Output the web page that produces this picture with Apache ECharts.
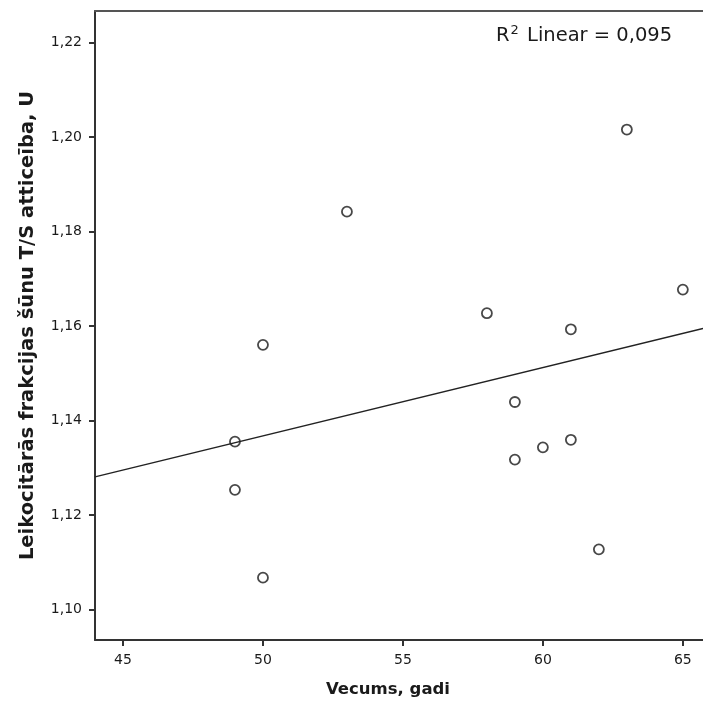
<!DOCTYPE html>
<html>
<head>
<meta charset="utf-8">
<script src="https://cdn.jsdelivr.net/npm/echarts@6/dist/echarts.min.js"></script>
<style>html,body{margin:0;padding:0;background:#fff}#c{width:703px;height:707px}</style>
</head>
<body>
<div id="c"></div>
<script>
// Data
const ages = [49, 49, 50, 50, 53, 58, 59, 59, 60, 61, 61, 62, 63, 65];
const tsRatio = [1.1355, 1.1253, 1.1067, 1.1560, 1.1842, 1.1627, 1.1439, 1.1317, 1.1343, 1.1593, 1.1359, 1.1127, 1.2016, 1.1677];
const xTicks = [45, 50, 55, 60, 65];
const yTicks = [1.10, 1.12, 1.14, 1.16, 1.18, 1.20, 1.22];
const xRange = [44, 65.72];
const yRange = [1.0935, 1.2267];
const r2Text = '0,095';
const xTitle = 'Vecums, gadi';
const yTitle = 'Leikocitārās frakcijas šūnu T/S atticeība, U';

// Linear fit (least squares) from the data
const n = ages.length;
const mx = ages.reduce((a, b) => a + b, 0) / n;
const my = tsRatio.reduce((a, b) => a + b, 0) / n;
let sxy = 0, sxx = 0;
for (let i = 0; i < n; i++) { sxy += (ages[i] - mx) * (tsRatio[i] - my); sxx += (ages[i] - mx) ** 2; }
const slope = sxy / sxx, icpt = my - slope * mx;
const fitLine = [[xRange[0], icpt + slope * xRange[0]], [xRange[1], icpt + slope * xRange[1]]];

const points = ages.map((a, i) => [a, tsRatio[i]]);
const font = "'DejaVu Sans', sans-serif";
const chart = echarts.init(document.getElementById('c'), null, { renderer: 'canvas' });
chart.setOption({
  animation: false,
  backgroundColor: '#fff',
  grid: { left: 95, right: 0, top: 11, bottom: 67, show: false },
  xAxis: [{
    type: 'value', min: xRange[0], max: xRange[1],
    splitLine: { show: false },
    axisLine: { show: true, onZero: false, lineStyle: { color: '#333', width: 2 } },
    axisTick: { show: true, length: 6, customValues: xTicks, lineStyle: { color: '#333', width: 2 } },
    axisLabel: { customValues: xTicks, color: '#1a1a1a', fontSize: 14, fontFamily: font, margin: 13 }
  }, {
    type: 'value', position: 'top', min: xRange[0], max: xRange[1],
    splitLine: { show: false },
    axisLine: { show: true, onZero: false, lineStyle: { color: '#555', width: 2 } },
    axisTick: { show: false }, axisLabel: { show: false }
  }],
  yAxis: {
    type: 'value', min: yRange[0], max: yRange[1],
    name: yTitle, nameLocation: 'middle', nameGap: 57,
    nameTextStyle: { fontSize: 19.5, fontWeight: 'bold', color: '#1a1a1a', fontFamily: font },
    splitLine: { show: false },
    axisLine: { show: true, onZero: false, lineStyle: { color: '#333', width: 2 } },
    axisTick: { show: true, length: 6, customValues: yTicks, lineStyle: { color: '#333', width: 2 } },
    axisLabel: { customValues: yTicks, color: '#1a1a1a', fontSize: 14, fontFamily: font, margin: 13,
      formatter: v => v.toFixed(2).replace('.', ',') }
  },
  graphic: [
    { type: 'text', x: 388, y: 690, style: { text: xTitle, fontSize: 16.5, fontWeight: 'bold', fill: '#1a1a1a', fontFamily: font, align: 'center', verticalAlign: 'middle' } },
    { type: 'text', left: 496, top: 24, style: {
        text: '{n|R}{s|2}{n| Linear = ' + r2Text + '}',
        rich: { n: { fontSize: 19.5, fill: '#1a1a1a', fontFamily: font, verticalAlign: 'bottom' },
                s: { fontSize: 13, fill: '#1a1a1a', fontFamily: font, verticalAlign: 'top', padding: [0, 2, 9, 1] } } } }
  ],
  series: [
    { type: 'line', data: fitLine, symbol: 'none', silent: true,
      lineStyle: { color: '#222', width: 1.4 }, clip: true },
    { type: 'scatter', data: points, symbol: 'circle', symbolSize: 10,
      itemStyle: { color: '#fff', borderColor: '#1a1a1a', borderWidth: 1.8 } }
  ]
});
</script>
</body>
</html>
